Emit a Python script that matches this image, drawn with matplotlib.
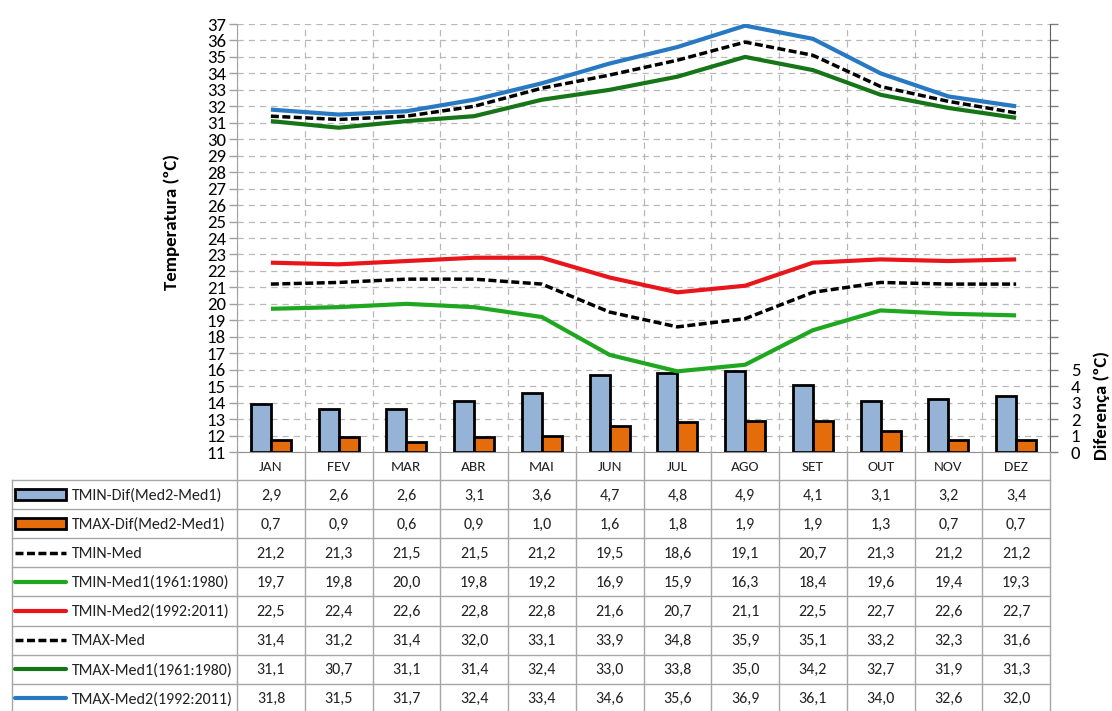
import matplotlib
matplotlib.use("Agg")
import matplotlib.pyplot as plt
from matplotlib import font_manager
from matplotlib.patches import Rectangle
from matplotlib.lines import Line2D
import numpy as np


def pick_font(candidates):
    for name in candidates:
        try:
            font_manager.findfont(name, fallback_to_default=False)
            return name
        except Exception:
            continue
    return "DejaVu Sans"


FONT = pick_font(["Carlito", "Liberation Sans Narrow", "Lato", "Open Sans"])
plt.rcParams["font.family"] = [FONT, "DejaVu Sans"]

# ---- data -------------------------------------------------------------
months = ["JAN", "FEV", "MAR", "ABR", "MAI", "JUN", "JUL", "AGO", "SET", "OUT", "NOV", "DEZ"]
tmin_dif = [2.9, 2.6, 2.6, 3.1, 3.6, 4.7, 4.8, 4.9, 4.1, 3.1, 3.2, 3.4]
tmax_dif = [0.7, 0.9, 0.6, 0.9, 1.0, 1.6, 1.8, 1.9, 1.9, 1.3, 0.7, 0.7]
tmin_med = [21.2, 21.3, 21.5, 21.5, 21.2, 19.5, 18.6, 19.1, 20.7, 21.3, 21.2, 21.2]
tmin_med1 = [19.7, 19.8, 20.0, 19.8, 19.2, 16.9, 15.9, 16.3, 18.4, 19.6, 19.4, 19.3]
tmin_med2 = [22.5, 22.4, 22.6, 22.8, 22.8, 21.6, 20.7, 21.1, 22.5, 22.7, 22.6, 22.7]
tmax_med = [31.4, 31.2, 31.4, 32.0, 33.1, 33.9, 34.8, 35.9, 35.1, 33.2, 32.3, 31.6]
tmax_med1 = [31.1, 30.7, 31.1, 31.4, 32.4, 33.0, 33.8, 35.0, 34.2, 32.7, 31.9, 31.3]
tmax_med2 = [31.8, 31.5, 31.7, 32.4, 33.4, 34.6, 35.6, 36.9, 36.1, 34.0, 32.6, 32.0]

labels = [
    "TMIN-Dif(Med2-Med1)", "TMAX-Dif(Med2-Med1)", "TMIN-Med", "TMIN-Med1(1961:1980)",
    "TMIN-Med2(1992:2011)", "TMAX-Med", "TMAX-Med1(1961:1980)", "TMAX-Med2(1992:2011)",
]
values = [tmin_dif, tmax_dif, tmin_med, tmin_med1, tmin_med2, tmax_med, tmax_med1, tmax_med2]

# ---- styles -----------------------------------------------------------
C_BAR_MIN = "#95B3D7"
C_BAR_MAX = "#E46C0A"
DASH = (0, (2.3, 1.0))
styles = [
    dict(kind="bar", color=C_BAR_MIN),
    dict(kind="bar", color=C_BAR_MAX),
    dict(kind="line", color="black", lw=2.5, ls=DASH),
    dict(kind="line", color="#1FA81F", lw=3.0, ls="-"),
    dict(kind="line", color="#E8161B", lw=3.0, ls="-"),
    dict(kind="line", color="black", lw=2.5, ls=DASH),
    dict(kind="line", color="#167516", lw=3.0, ls="-"),
    dict(kind="line", color="#2878C2", lw=3.0, ls="-"),
]

W, H = 1112, 711
X0, X1 = 237, 1050      # plot area, px
Y_TOP, Y_BOT = 24, 452
GRID = "#B8B8B8"
TABLE_LINE = "#A6A6A6"
GRID_DASH = (0, (5, 4))

fig = plt.figure(figsize=(W / 100, H / 100), dpi=100)
fig.patch.set_facecolor("white")

ax = fig.add_axes([X0 / W, 1 - Y_BOT / H, (X1 - X0) / W, (Y_BOT - Y_TOP) / H])
ax2 = ax.twinx()
ax2.xaxis.set_visible(True)

x = np.arange(len(months))

# bars on the difference axis (below the temperature lines)
bw = 0.295
ax2.bar(x - bw / 2, tmin_dif, width=bw, color=C_BAR_MIN, edgecolor="black", linewidth=2.0, zorder=3)
ax2.bar(x + bw / 2, tmax_dif, width=bw, color=C_BAR_MAX, edgecolor="black", linewidth=2.0, zorder=3)
ax2.set_ylim(0, 26)
ax2.set_yticks(np.arange(0, 27))
ax2.set_yticklabels([str(v) if v <= 5 else "" for v in range(27)], fontsize=13.5)
ax2.tick_params(axis="y", direction="out", length=6, width=1, color="#808080", pad=9)
ax2.set_xlim(-0.5, 11.5)
ax2.set_xticks(np.arange(-0.5, 12.0, 1.0))
ax2.tick_params(axis="x", length=0, labelbottom=False)
ax2.grid(True, which="major", axis="x", color=GRID, ls=GRID_DASH, lw=0.9, zorder=0)
ax2.grid(True, which="major", axis="y", color=GRID, ls=GRID_DASH, lw=0.9, zorder=0)
ax2.set_axisbelow(True)
ax2.patch.set_visible(True)
ax2.patch.set_facecolor("white")

# temperature lines on top
ax.set_zorder(ax2.get_zorder() + 1)
ax.patch.set_visible(False)
for vals, st in zip(values[2:], styles[2:]):
    ax.plot(x, vals, color=st["color"], lw=st["lw"], ls=st["ls"],
            solid_capstyle="butt", zorder=4)

ax.set_xlim(-0.5, 11.5)
ax.set_ylim(11, 37)
ax.set_yticks(np.arange(11, 38))
ax.tick_params(axis="y", direction="out", length=6, width=1, color="#A0A0A0", labelsize=13.5, pad=2)
ax.tick_params(axis="x", length=0, labelbottom=False)

for a in (ax, ax2):
    a.spines["top"].set_visible(False)
ax.spines["left"].set_color("#A0A0A0")
ax.spines["bottom"].set_color("#909090")
ax.spines["right"].set_visible(False)
ax2.spines["left"].set_visible(False)
ax2.spines["bottom"].set_visible(False)
ax2.spines["right"].set_color("#606060")

fig.text(172 / W, 1 - 222 / H, "Temperatura (ºC)", rotation=90, ha="center", va="center",
         fontsize=13.5, fontweight="bold")
fig.text(1102 / W, 1 - 405 / H, "Diferença (ºC)", rotation=90, ha="center", va="center",
         fontsize=13.5, fontweight="bold")

# ---- data table -------------------------------------------------------
tab = fig.add_axes([0, 0, 1, 1], zorder=10)
tab.set_xlim(0, W)
tab.set_ylim(H, 0)
tab.axis("off")
tab.patch.set_visible(False)

col_w = (X1 - X0) / 12
col_x = [X0 + i * col_w for i in range(13)]
L0 = 12
row_h = 29.1
HEAD_TOP, HEAD_BOT = Y_BOT, 480
row_y = [HEAD_BOT + i * row_h for i in range(len(labels) + 1)]

# header row with month names
for cx in col_x:
    tab.add_line(Line2D([cx, cx], [HEAD_TOP, row_y[-1]], color=TABLE_LINE, lw=1))
for i, m in enumerate(months):
    tab.text((col_x[i] + col_x[i + 1]) / 2, (HEAD_TOP + HEAD_BOT) / 2 + 1, m,
             ha="center", va="center", fontsize=11, color="#222222")

tab.add_line(Line2D([L0, L0], [row_y[0], row_y[-1]], color=TABLE_LINE, lw=1))
for ry in row_y:
    tab.add_line(Line2D([L0, X1], [ry, ry], color=TABLE_LINE, lw=1))

for r, (lab, vals, st) in enumerate(zip(labels, values, styles)):
    yc = (row_y[r] + row_y[r + 1]) / 2
    if st["kind"] == "bar":
        tab.add_patch(Rectangle((15, yc - 5.5), 51, 11, facecolor=st["color"],
                                edgecolor="black", lw=2.0))
    else:
        tab.add_line(Line2D([15, 66], [yc, yc], color=st["color"], lw=st["lw"],
                            ls=st["ls"], solid_capstyle="round"))
    tab.text(72, yc + 1, lab, ha="left", va="center", fontsize=11.5, color="#222222")
    for i, v in enumerate(vals):
        tab.text((col_x[i] + col_x[i + 1]) / 2, yc + 1, f"{v:.1f}".replace(".", ","),
                 ha="center", va="center", fontsize=11.5, color="#222222")

fig.savefig("out.png", dpi=100, facecolor="white")
